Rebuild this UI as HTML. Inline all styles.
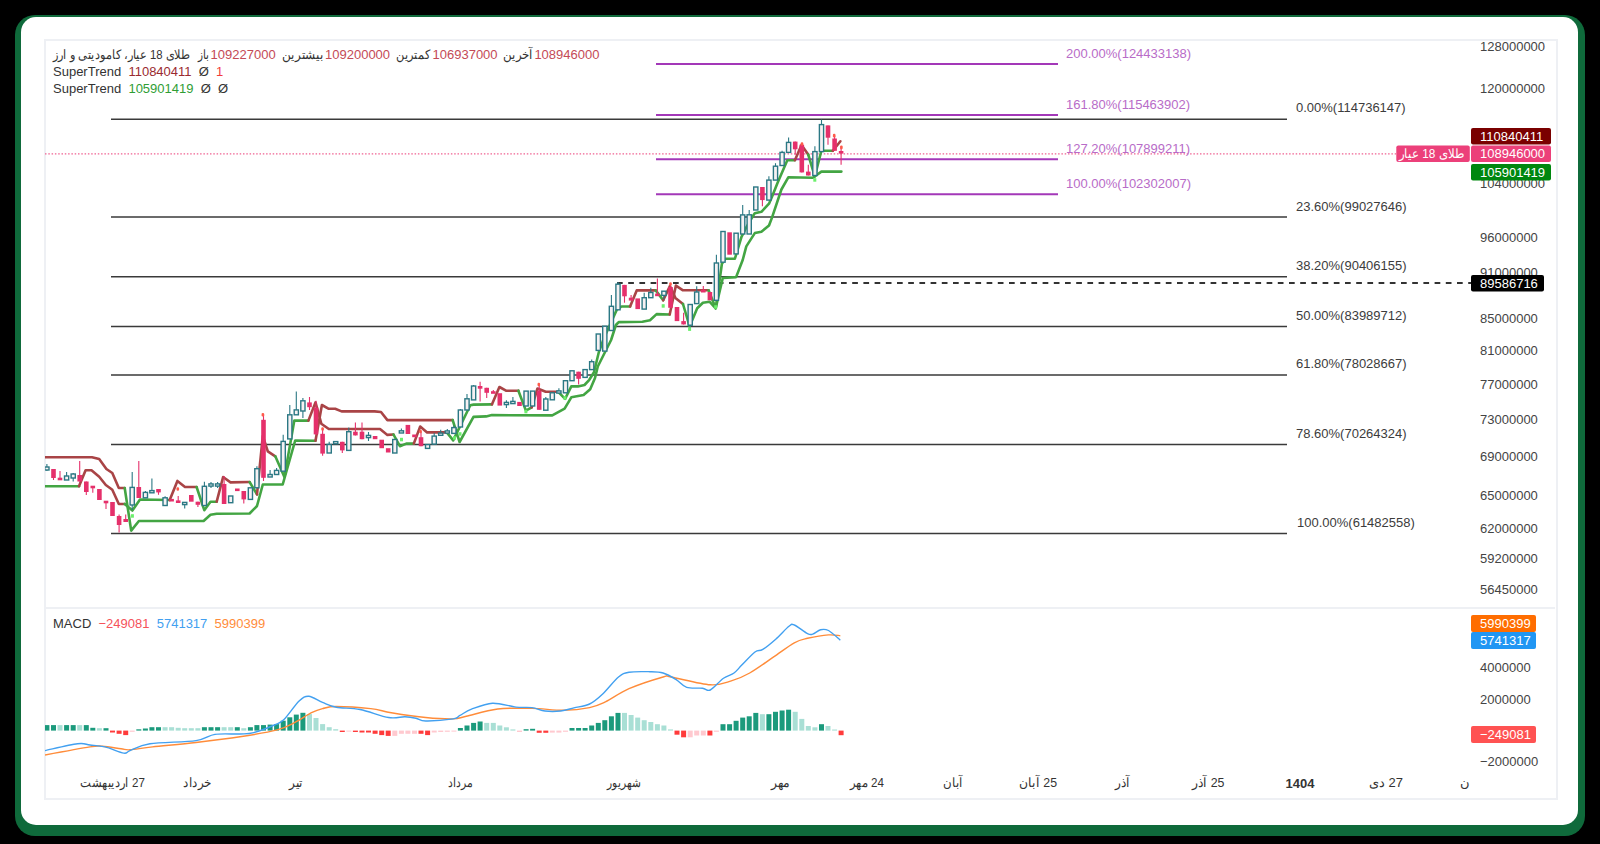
<!DOCTYPE html>
<html><head><meta charset="utf-8">
<style>
html,body{margin:0;padding:0;background:#000;width:1600px;height:844px;overflow:hidden;}
body{position:relative;font-family:"Liberation Sans",sans-serif;}
.frame{position:absolute;left:15px;top:15px;width:1570px;height:821px;background:#0f6a3b;border-radius:20px;}
.card{position:absolute;left:21px;top:17px;width:1557px;height:808px;background:#fff;border-radius:15px;}
.chart{position:absolute;left:43.5px;top:38.5px;width:1510px;height:757px;border:2px solid #eef0f4;}
.sep{position:absolute;left:45px;top:606.5px;width:1510px;height:2px;background:#eef0f4;}
svg{position:absolute;left:0;top:0;}
text{font-family:"Liberation Sans",sans-serif;}
.fa{position:absolute;font-size:13px;line-height:16px;white-space:nowrap;transform-origin:0 0;}
.leg{position:absolute;left:53px;font-size:13px;line-height:17px;white-space:nowrap;color:#333;}
</style></head><body>
<div class="frame"></div>
<div class="card"></div>
<div class="chart"></div>
<div class="sep"></div>
<svg width="1600" height="844" viewBox="0 0 1600 844">
<defs><clipPath id="cp"><rect x="45" y="40" width="1510" height="757"/></clipPath></defs>
<g clip-path="url(#cp)">
<line x1="111" y1="119.3" x2="1287" y2="119.3" stroke="#3a3a3a" stroke-width="1.6"/>
<line x1="111" y1="217.0" x2="1287" y2="217.0" stroke="#3a3a3a" stroke-width="1.6"/>
<line x1="111" y1="276.8" x2="1287" y2="276.8" stroke="#3a3a3a" stroke-width="1.6"/>
<line x1="111" y1="326.5" x2="1287" y2="326.5" stroke="#3a3a3a" stroke-width="1.6"/>
<line x1="111" y1="375.0" x2="1287" y2="375.0" stroke="#3a3a3a" stroke-width="1.6"/>
<line x1="111" y1="444.5" x2="1287" y2="444.5" stroke="#3a3a3a" stroke-width="1.6"/>
<line x1="111" y1="533.5" x2="1287" y2="533.5" stroke="#3a3a3a" stroke-width="1.6"/>
<line x1="656" y1="63.9" x2="1058" y2="63.9" stroke="#a338b8" stroke-width="2"/>
<line x1="656" y1="115.0" x2="1058" y2="115.0" stroke="#a338b8" stroke-width="2"/>
<line x1="656" y1="159.2" x2="1058" y2="159.2" stroke="#a338b8" stroke-width="2"/>
<line x1="656" y1="194.3" x2="1058" y2="194.3" stroke="#a338b8" stroke-width="2"/>
<line x1="45" y1="153.8" x2="1396" y2="153.8" stroke="#f06292" stroke-width="1.2" stroke-dasharray="1.5,1.8"/>
<line x1="617" y1="283" x2="1471" y2="283" stroke="#333" stroke-width="2" stroke-dasharray="5.7,5.5"/>
<polyline points="45.0,457.2 92.0,457.2 99.2,459.0 106.4,469.0 112.3,473.0 118.8,488.0 124.7,488.0" fill="none" stroke="#a94446" stroke-width="2.6" stroke-linejoin="round" stroke-linecap="round"/>
<polyline points="124.7,488.0 131.2,530.6 138.9,521.0 203.6,521.0 210.5,514.8 216.7,513.7 249.6,513.5 257.0,506.0 262.8,484.5 282.7,484.5 295.2,440.5 315.5,440.8" fill="none" stroke="#43a543" stroke-width="2.6" stroke-linejoin="round" stroke-linecap="round"/>
<polyline points="315.5,440.8 321.9,405.0 328.8,408.8 335.2,408.8 341.6,411.4 374.6,411.4 381.0,412.0 387.4,420.1 452.7,420.1" fill="none" stroke="#a94446" stroke-width="2.6" stroke-linejoin="round" stroke-linecap="round"/>
<polyline points="452.7,420.1 459.6,442.0 473.5,416.9 486.1,416.4 491.9,415.1 552.3,415.4 564.6,408.7 571.3,397.3 583.6,395.0 590.2,389.3 595.0,377.9 597.8,366.5 611.1,340.0 615.9,325.0 618.7,322.1 642.4,321.7 650.0,320.2 656.6,314.1 669.7,314.5" fill="none" stroke="#43a543" stroke-width="2.6" stroke-linejoin="round" stroke-linecap="round"/>
<polyline points="669.7,314.5 675.9,285.6 683.0,290.3 708.6,290.3" fill="none" stroke="#a94446" stroke-width="2.6" stroke-linejoin="round" stroke-linecap="round"/>
<polyline points="708.6,290.3 715.7,308.3 722.8,278.0 736.1,277.1 742.7,260.0 746.3,246.4 754.8,233.1 761.4,231.7 769.0,225.5 771.9,217.9 781.4,189.5 788.3,177.3 812.9,177.8 821.4,171.6 841.4,171.6" fill="none" stroke="#43a543" stroke-width="2.6" stroke-linejoin="round" stroke-linecap="round"/>

<polyline points="45.0,486.2 79.0,486.2" fill="none" stroke="#43a543" stroke-width="2.6" stroke-linejoin="round" stroke-linecap="round"/>
<polyline points="79.0,486.2 85.6,470.2 91.5,470.2 99.2,476.7 105.8,485.0 112.3,489.8 118.8,504.0 124.7,504.0" fill="none" stroke="#a94446" stroke-width="2.6" stroke-linejoin="round" stroke-linecap="round"/>
<polyline points="124.7,504.0 132.4,510.5 140.0,499.5 169.7,500.0" fill="none" stroke="#43a543" stroke-width="2.6" stroke-linejoin="round" stroke-linecap="round"/>
<polyline points="169.7,500.0 177.4,480.9 185.0,487.0 196.6,487.0" fill="none" stroke="#a94446" stroke-width="2.6" stroke-linejoin="round" stroke-linecap="round"/>
<polyline points="196.6,487.0 204.3,510.2 210.5,501.7 216.7,501.7" fill="none" stroke="#43a543" stroke-width="2.6" stroke-linejoin="round" stroke-linecap="round"/>
<polyline points="216.7,501.7 223.1,477.0 230.5,482.4 249.6,482.0" fill="none" stroke="#a94446" stroke-width="2.6" stroke-linejoin="round" stroke-linecap="round"/>
<polyline points="249.6,482.0 257.0,494.4" fill="none" stroke="#43a543" stroke-width="2.6" stroke-linejoin="round" stroke-linecap="round"/>
<polyline points="257.0,494.4 262.8,436.0 267.8,451.3 275.3,456.3" fill="none" stroke="#a94446" stroke-width="2.6" stroke-linejoin="round" stroke-linecap="round"/>
<polyline points="275.3,456.3 284.4,477.0 294.3,420.6 308.4,420.6" fill="none" stroke="#43a543" stroke-width="2.6" stroke-linejoin="round" stroke-linecap="round"/>
<polyline points="308.4,420.6 315.5,402.4 321.3,423.7 328.8,429.0 380.0,429.0 387.4,434.9 393.5,434.5" fill="none" stroke="#a94446" stroke-width="2.6" stroke-linejoin="round" stroke-linecap="round"/>
<polyline points="393.5,434.5 399.9,446.2 406.3,443.6 413.8,443.6" fill="none" stroke="#43a543" stroke-width="2.6" stroke-linejoin="round" stroke-linecap="round"/>
<polyline points="413.8,443.6 420.2,426.5 427.1,432.4 446.8,432.4" fill="none" stroke="#a94446" stroke-width="2.6" stroke-linejoin="round" stroke-linecap="round"/>
<polyline points="446.8,432.4 453.2,440.4 470.3,405.2 473.5,404.6 491.9,404.4" fill="none" stroke="#43a543" stroke-width="2.6" stroke-linejoin="round" stroke-linecap="round"/>
<polyline points="491.9,404.4 499.4,387.0 506.0,390.7 518.4,390.7" fill="none" stroke="#a94446" stroke-width="2.6" stroke-linejoin="round" stroke-linecap="round"/>
<polyline points="518.4,390.7 525.9,410.6 531.7,407.3" fill="none" stroke="#43a543" stroke-width="2.6" stroke-linejoin="round" stroke-linecap="round"/>
<polyline points="531.7,407.3 537.5,388.5 545.7,391.7 558.0,391.7" fill="none" stroke="#a94446" stroke-width="2.6" stroke-linejoin="round" stroke-linecap="round"/>
<polyline points="558.0,391.7 565.1,398.8 571.3,386.4 577.9,386.4 584.5,385.0 589.3,379.8 594.0,372.2 598.8,352.3 604.0,338.0 616.8,309.8 621.5,306.5 630.1,306.5" fill="none" stroke="#43a543" stroke-width="2.6" stroke-linejoin="round" stroke-linecap="round"/>
<polyline points="630.1,306.5 636.7,290.4 655.7,290.4" fill="none" stroke="#a94446" stroke-width="2.6" stroke-linejoin="round" stroke-linecap="round"/>
<polyline points="655.7,290.4 663.2,300.3" fill="none" stroke="#43a543" stroke-width="2.6" stroke-linejoin="round" stroke-linecap="round"/>
<polyline points="663.2,300.3 669.9,286.1 675.4,297.9 683.0,304.0" fill="none" stroke="#a94446" stroke-width="2.6" stroke-linejoin="round" stroke-linecap="round"/>
<polyline points="683.0,304.0 689.6,326.4 697.2,308.3 702.9,302.7 709.5,301.7 715.7,308.3 721.9,263.8 725.4,258.7 734.9,258.7 741.5,236.9 746.3,227.4 752.9,216.0 754.8,213.2 761.4,211.8 769.0,203.7 771.9,197.1 777.6,182.8 787.3,160.2 794.9,160.2" fill="none" stroke="#43a543" stroke-width="2.6" stroke-linejoin="round" stroke-linecap="round"/>
<polyline points="794.9,160.2 801.5,145.1 808.2,154.5" fill="none" stroke="#a94446" stroke-width="2.6" stroke-linejoin="round" stroke-linecap="round"/>
<polyline points="808.2,154.5 814.8,176.4 821.4,150.8 832.8,150.8" fill="none" stroke="#43a543" stroke-width="2.6" stroke-linejoin="round" stroke-linecap="round"/>
<polyline points="832.8,150.8 840.4,141.3" fill="none" stroke="#a94446" stroke-width="2.6" stroke-linejoin="round" stroke-linecap="round"/>

<line x1="46.9" y1="464.0" x2="46.9" y2="467.0" stroke="#2b7884" stroke-width="1.1"/>
<line x1="46.9" y1="470.0" x2="46.9" y2="471.0" stroke="#2b7884" stroke-width="1.1"/>
<rect x="44.8" y="467.0" width="4.2" height="3.0" fill="#f7f1f3" stroke="#2b7884" stroke-width="1.4"/>
<line x1="53.5" y1="469.0" x2="53.5" y2="480.0" stroke="#e5306b" stroke-width="1.1"/>
<rect x="51.2" y="469.0" width="4.6" height="9.0" fill="#e5306b"/>
<line x1="60.0" y1="471.0" x2="60.0" y2="480.0" stroke="#e5306b" stroke-width="1.1"/>
<rect x="57.7" y="477.7" width="4.6" height="2.6" fill="#e5306b"/>
<line x1="66.6" y1="472.0" x2="66.6" y2="476.0" stroke="#2b7884" stroke-width="1.1"/>
<rect x="64.5" y="476.0" width="4.2" height="4.0" fill="#f7f1f3" stroke="#2b7884" stroke-width="1.4"/>
<line x1="73.2" y1="473.0" x2="73.2" y2="474.0" stroke="#2b7884" stroke-width="1.1"/>
<line x1="73.2" y1="478.0" x2="73.2" y2="481.5" stroke="#2b7884" stroke-width="1.1"/>
<rect x="71.1" y="474.0" width="4.2" height="4.0" fill="#f7f1f3" stroke="#2b7884" stroke-width="1.4"/>
<line x1="79.7" y1="461.0" x2="79.7" y2="481.5" stroke="#e5306b" stroke-width="1.1"/>
<rect x="77.4" y="475.0" width="4.6" height="6.5" fill="#e5306b"/>
<line x1="86.3" y1="481.5" x2="86.3" y2="495.0" stroke="#e5306b" stroke-width="1.1"/>
<rect x="84.0" y="481.5" width="4.6" height="10.5" fill="#e5306b"/>
<line x1="92.8" y1="486.0" x2="92.8" y2="492.7" stroke="#e5306b" stroke-width="1.1"/>
<rect x="90.5" y="485.7" width="4.6" height="2.6" fill="#e5306b"/>
<rect x="97.1" y="489.0" width="4.6" height="11.0" fill="#e5306b"/>
<line x1="106.0" y1="501.0" x2="106.0" y2="509.0" stroke="#e5306b" stroke-width="1.1"/>
<rect x="103.7" y="500.7" width="4.6" height="2.6" fill="#e5306b"/>
<rect x="110.2" y="502.0" width="4.6" height="14.0" fill="#e5306b"/>
<line x1="119.1" y1="514.6" x2="119.1" y2="532.4" stroke="#e5306b" stroke-width="1.1"/>
<rect x="116.8" y="516.0" width="4.6" height="9.0" fill="#e5306b"/>
<line x1="125.7" y1="514.6" x2="125.7" y2="522.0" stroke="#e5306b" stroke-width="1.1"/>
<rect x="123.4" y="519.0" width="4.6" height="3.0" fill="#e5306b"/>
<line x1="132.2" y1="472.0" x2="132.2" y2="487.4" stroke="#2b7884" stroke-width="1.1"/>
<line x1="132.2" y1="505.0" x2="132.2" y2="510.0" stroke="#2b7884" stroke-width="1.1"/>
<rect x="130.1" y="487.4" width="4.2" height="17.6" fill="#f7f1f3" stroke="#2b7884" stroke-width="1.4"/>
<line x1="138.8" y1="461.0" x2="138.8" y2="498.0" stroke="#e5306b" stroke-width="1.1"/>
<rect x="136.5" y="487.0" width="4.6" height="11.0" fill="#e5306b"/>
<line x1="145.4" y1="491.0" x2="145.4" y2="492.4" stroke="#2b7884" stroke-width="1.1"/>
<rect x="143.3" y="492.4" width="4.2" height="5.4" fill="#f7f1f3" stroke="#2b7884" stroke-width="1.4"/>
<line x1="151.9" y1="478.6" x2="151.9" y2="491.0" stroke="#2b7884" stroke-width="1.1"/>
<rect x="149.8" y="490.6" width="4.2" height="2.2" fill="#f7f1f3" stroke="#2b7884" stroke-width="1.4"/>
<line x1="158.5" y1="489.0" x2="158.5" y2="494.8" stroke="#e5306b" stroke-width="1.1"/>
<rect x="156.2" y="489.0" width="4.6" height="3.4" fill="#e5306b"/>
<line x1="165.1" y1="496.3" x2="165.1" y2="497.8" stroke="#2b7884" stroke-width="1.1"/>
<rect x="163.0" y="497.8" width="4.2" height="7.7" fill="#f7f1f3" stroke="#2b7884" stroke-width="1.4"/>
<rect x="169.3" y="498.9" width="4.6" height="2.6" fill="#e5306b"/>
<line x1="178.2" y1="496.0" x2="178.2" y2="502.5" stroke="#e5306b" stroke-width="1.1"/>
<rect x="175.9" y="500.4" width="4.6" height="2.6" fill="#e5306b"/>
<line x1="184.7" y1="504.0" x2="184.7" y2="508.6" stroke="#2b7884" stroke-width="1.1"/>
<rect x="182.6" y="502.4" width="4.2" height="2.2" fill="#f7f1f3" stroke="#2b7884" stroke-width="1.4"/>
<rect x="189.0" y="495.0" width="4.6" height="6.7" fill="#e5306b"/>
<line x1="197.9" y1="501.7" x2="197.9" y2="507.0" stroke="#e5306b" stroke-width="1.1"/>
<rect x="195.6" y="501.7" width="4.6" height="3.1" fill="#e5306b"/>
<line x1="204.4" y1="481.7" x2="204.4" y2="486.3" stroke="#2b7884" stroke-width="1.1"/>
<rect x="202.3" y="486.3" width="4.2" height="19.2" fill="#f7f1f3" stroke="#2b7884" stroke-width="1.4"/>
<line x1="211.0" y1="482.0" x2="211.0" y2="484.5" stroke="#2b7884" stroke-width="1.1"/>
<line x1="211.0" y1="485.5" x2="211.0" y2="488.0" stroke="#2b7884" stroke-width="1.1"/>
<rect x="208.9" y="483.9" width="4.2" height="2.2" fill="#f7f1f3" stroke="#2b7884" stroke-width="1.4"/>
<line x1="217.6" y1="482.0" x2="217.6" y2="484.5" stroke="#2b7884" stroke-width="1.1"/>
<line x1="217.6" y1="485.5" x2="217.6" y2="488.0" stroke="#2b7884" stroke-width="1.1"/>
<rect x="215.5" y="483.9" width="4.2" height="2.2" fill="#f7f1f3" stroke="#2b7884" stroke-width="1.4"/>
<line x1="224.1" y1="476.0" x2="224.1" y2="504.0" stroke="#e5306b" stroke-width="1.1"/>
<rect x="221.8" y="484.0" width="4.6" height="20.0" fill="#e5306b"/>
<rect x="228.6" y="496.0" width="4.2" height="6.7" fill="#f7f1f3" stroke="#2b7884" stroke-width="1.4"/>
<rect x="235.0" y="488.5" width="4.6" height="2.6" fill="#e5306b"/>
<line x1="243.8" y1="491.0" x2="243.8" y2="503.5" stroke="#e5306b" stroke-width="1.1"/>
<rect x="241.5" y="491.0" width="4.6" height="8.4" fill="#e5306b"/>
<rect x="248.3" y="487.8" width="4.2" height="11.6" fill="#f7f1f3" stroke="#2b7884" stroke-width="1.4"/>
<line x1="256.9" y1="466.2" x2="256.9" y2="468.7" stroke="#2b7884" stroke-width="1.1"/>
<rect x="254.8" y="468.7" width="4.2" height="19.1" fill="#f7f1f3" stroke="#2b7884" stroke-width="1.4"/>
<line x1="263.5" y1="414.0" x2="263.5" y2="481.0" stroke="#e5306b" stroke-width="1.1"/>
<rect x="261.2" y="419.8" width="4.6" height="58.0" fill="#e5306b"/>
<line x1="270.1" y1="470.0" x2="270.1" y2="474.5" stroke="#2b7884" stroke-width="1.1"/>
<rect x="268.0" y="474.5" width="4.2" height="2.5" fill="#f7f1f3" stroke="#2b7884" stroke-width="1.4"/>
<line x1="276.6" y1="468.0" x2="276.6" y2="470.4" stroke="#2b7884" stroke-width="1.1"/>
<rect x="274.5" y="470.4" width="4.2" height="4.1" fill="#f7f1f3" stroke="#2b7884" stroke-width="1.4"/>
<line x1="283.2" y1="434.7" x2="283.2" y2="441.4" stroke="#2b7884" stroke-width="1.1"/>
<rect x="281.1" y="441.4" width="4.2" height="29.8" fill="#f7f1f3" stroke="#2b7884" stroke-width="1.4"/>
<line x1="289.8" y1="404.9" x2="289.8" y2="414.8" stroke="#2b7884" stroke-width="1.1"/>
<rect x="287.7" y="414.8" width="4.2" height="24.1" fill="#f7f1f3" stroke="#2b7884" stroke-width="1.4"/>
<line x1="296.3" y1="391.6" x2="296.3" y2="409.9" stroke="#2b7884" stroke-width="1.1"/>
<rect x="294.2" y="409.9" width="4.2" height="4.9" fill="#f7f1f3" stroke="#2b7884" stroke-width="1.4"/>
<line x1="302.9" y1="398.0" x2="302.9" y2="400.8" stroke="#2b7884" stroke-width="1.1"/>
<line x1="302.9" y1="411.0" x2="302.9" y2="418.0" stroke="#2b7884" stroke-width="1.1"/>
<rect x="300.8" y="400.8" width="4.2" height="10.2" fill="#f7f1f3" stroke="#2b7884" stroke-width="1.4"/>
<line x1="309.5" y1="397.0" x2="309.5" y2="410.0" stroke="#e5306b" stroke-width="1.1"/>
<rect x="307.2" y="402.4" width="4.6" height="4.8" fill="#e5306b"/>
<line x1="316.0" y1="400.8" x2="316.0" y2="434.4" stroke="#e5306b" stroke-width="1.1"/>
<rect x="313.7" y="407.7" width="4.6" height="26.7" fill="#e5306b"/>
<line x1="322.6" y1="429.0" x2="322.6" y2="455.7" stroke="#e5306b" stroke-width="1.1"/>
<rect x="320.3" y="433.8" width="4.6" height="19.8" fill="#e5306b"/>
<line x1="329.2" y1="441.8" x2="329.2" y2="444.5" stroke="#2b7884" stroke-width="1.1"/>
<rect x="327.1" y="444.5" width="4.2" height="8.5" fill="#f7f1f3" stroke="#2b7884" stroke-width="1.4"/>
<line x1="335.7" y1="441.0" x2="335.7" y2="442.0" stroke="#2b7884" stroke-width="1.1"/>
<line x1="335.7" y1="443.5" x2="335.7" y2="444.0" stroke="#2b7884" stroke-width="1.1"/>
<rect x="333.6" y="441.6" width="4.2" height="2.2" fill="#f7f1f3" stroke="#2b7884" stroke-width="1.4"/>
<line x1="342.3" y1="441.8" x2="342.3" y2="453.0" stroke="#e5306b" stroke-width="1.1"/>
<rect x="340.0" y="441.8" width="4.6" height="8.6" fill="#e5306b"/>
<line x1="348.8" y1="427.4" x2="348.8" y2="431.7" stroke="#2b7884" stroke-width="1.1"/>
<rect x="346.7" y="431.7" width="4.2" height="18.7" fill="#f7f1f3" stroke="#2b7884" stroke-width="1.4"/>
<line x1="355.4" y1="422.6" x2="355.4" y2="435.4" stroke="#e5306b" stroke-width="1.1"/>
<rect x="353.1" y="431.7" width="4.6" height="3.7" fill="#e5306b"/>
<line x1="362.0" y1="422.6" x2="362.0" y2="439.2" stroke="#e5306b" stroke-width="1.1"/>
<rect x="359.7" y="431.7" width="4.6" height="7.5" fill="#e5306b"/>
<line x1="368.5" y1="432.0" x2="368.5" y2="436.0" stroke="#2b7884" stroke-width="1.1"/>
<line x1="368.5" y1="437.0" x2="368.5" y2="441.0" stroke="#2b7884" stroke-width="1.1"/>
<rect x="366.4" y="435.4" width="4.2" height="2.2" fill="#f7f1f3" stroke="#2b7884" stroke-width="1.4"/>
<rect x="372.8" y="436.0" width="4.6" height="3.2" fill="#e5306b"/>
<rect x="379.4" y="439.7" width="4.6" height="8.5" fill="#e5306b"/>
<rect x="385.9" y="448.2" width="4.6" height="4.3" fill="#e5306b"/>
<rect x="392.7" y="439.5" width="4.2" height="13.5" fill="#f7f1f3" stroke="#2b7884" stroke-width="1.4"/>
<line x1="401.4" y1="428.6" x2="401.4" y2="430.8" stroke="#2b7884" stroke-width="1.1"/>
<rect x="399.3" y="430.8" width="4.2" height="2.2" fill="#f7f1f3" stroke="#2b7884" stroke-width="1.4"/>
<rect x="405.6" y="424.9" width="4.6" height="9.1" fill="#e5306b"/>
<rect x="412.2" y="434.5" width="4.6" height="2.7" fill="#e5306b"/>
<line x1="421.0" y1="431.3" x2="421.0" y2="446.2" stroke="#e5306b" stroke-width="1.1"/>
<rect x="418.7" y="437.2" width="4.6" height="9.0" fill="#e5306b"/>
<rect x="425.5" y="444.6" width="4.2" height="3.8" fill="#f7f1f3" stroke="#2b7884" stroke-width="1.4"/>
<line x1="434.2" y1="432.9" x2="434.2" y2="436.1" stroke="#2b7884" stroke-width="1.1"/>
<rect x="432.1" y="436.1" width="4.2" height="8.0" fill="#f7f1f3" stroke="#2b7884" stroke-width="1.4"/>
<line x1="440.7" y1="429.7" x2="440.7" y2="433.4" stroke="#2b7884" stroke-width="1.1"/>
<rect x="438.6" y="433.1" width="4.2" height="2.2" fill="#f7f1f3" stroke="#2b7884" stroke-width="1.4"/>
<line x1="447.3" y1="429.0" x2="447.3" y2="431.5" stroke="#2b7884" stroke-width="1.1"/>
<line x1="447.3" y1="432.5" x2="447.3" y2="433.0" stroke="#2b7884" stroke-width="1.1"/>
<rect x="445.2" y="430.9" width="4.2" height="2.2" fill="#f7f1f3" stroke="#2b7884" stroke-width="1.4"/>
<line x1="453.9" y1="425.4" x2="453.9" y2="427.6" stroke="#2b7884" stroke-width="1.1"/>
<rect x="451.8" y="427.6" width="4.2" height="5.8" fill="#f7f1f3" stroke="#2b7884" stroke-width="1.4"/>
<line x1="460.4" y1="408.9" x2="460.4" y2="410.0" stroke="#2b7884" stroke-width="1.1"/>
<rect x="458.3" y="410.0" width="4.2" height="17.0" fill="#f7f1f3" stroke="#2b7884" stroke-width="1.4"/>
<line x1="467.0" y1="394.0" x2="467.0" y2="398.8" stroke="#2b7884" stroke-width="1.1"/>
<rect x="464.9" y="398.8" width="4.2" height="11.2" fill="#f7f1f3" stroke="#2b7884" stroke-width="1.4"/>
<line x1="473.6" y1="384.9" x2="473.6" y2="386.0" stroke="#2b7884" stroke-width="1.1"/>
<rect x="471.5" y="386.0" width="4.2" height="13.9" fill="#f7f1f3" stroke="#2b7884" stroke-width="1.4"/>
<line x1="480.1" y1="381.7" x2="480.1" y2="401.4" stroke="#e5306b" stroke-width="1.1"/>
<rect x="477.8" y="386.0" width="4.6" height="2.7" fill="#e5306b"/>
<line x1="486.7" y1="387.8" x2="486.7" y2="398.1" stroke="#e5306b" stroke-width="1.1"/>
<rect x="484.4" y="387.8" width="4.6" height="5.0" fill="#e5306b"/>
<line x1="493.3" y1="389.9" x2="493.3" y2="393.0" stroke="#e5306b" stroke-width="1.1"/>
<rect x="491.0" y="391.2" width="4.6" height="2.6" fill="#e5306b"/>
<rect x="497.5" y="393.2" width="4.6" height="12.4" fill="#e5306b"/>
<line x1="506.4" y1="400.2" x2="506.4" y2="403.0" stroke="#2b7884" stroke-width="1.1"/>
<line x1="506.4" y1="404.0" x2="506.4" y2="408.1" stroke="#2b7884" stroke-width="1.1"/>
<rect x="504.3" y="402.4" width="4.2" height="2.2" fill="#f7f1f3" stroke="#2b7884" stroke-width="1.4"/>
<line x1="512.9" y1="396.9" x2="512.9" y2="402.0" stroke="#2b7884" stroke-width="1.1"/>
<rect x="510.8" y="401.4" width="4.2" height="2.2" fill="#f7f1f3" stroke="#2b7884" stroke-width="1.4"/>
<rect x="517.2" y="401.9" width="4.6" height="4.1" fill="#e5306b"/>
<rect x="524.0" y="391.1" width="4.2" height="14.9" fill="#f7f1f3" stroke="#2b7884" stroke-width="1.4"/>
<rect x="530.5" y="391.1" width="4.2" height="14.9" fill="#f7f1f3" stroke="#2b7884" stroke-width="1.4"/>
<line x1="539.2" y1="384.5" x2="539.2" y2="409.8" stroke="#e5306b" stroke-width="1.1"/>
<rect x="536.9" y="390.7" width="4.6" height="19.1" fill="#e5306b"/>
<line x1="545.8" y1="397.0" x2="545.8" y2="399.0" stroke="#2b7884" stroke-width="1.1"/>
<rect x="543.7" y="399.0" width="4.2" height="11.2" fill="#f7f1f3" stroke="#2b7884" stroke-width="1.4"/>
<rect x="550.2" y="392.8" width="4.2" height="7.0" fill="#f7f1f3" stroke="#2b7884" stroke-width="1.4"/>
<line x1="558.9" y1="388.2" x2="558.9" y2="391.1" stroke="#2b7884" stroke-width="1.1"/>
<rect x="556.8" y="390.9" width="4.2" height="2.2" fill="#f7f1f3" stroke="#2b7884" stroke-width="1.4"/>
<rect x="563.4" y="380.7" width="4.2" height="12.1" fill="#f7f1f3" stroke="#2b7884" stroke-width="1.4"/>
<rect x="569.9" y="370.8" width="4.2" height="9.9" fill="#f7f1f3" stroke="#2b7884" stroke-width="1.4"/>
<line x1="578.6" y1="371.7" x2="578.6" y2="384.5" stroke="#e5306b" stroke-width="1.1"/>
<rect x="576.3" y="371.7" width="4.6" height="7.1" fill="#e5306b"/>
<rect x="583.0" y="369.6" width="4.2" height="7.8" fill="#f7f1f3" stroke="#2b7884" stroke-width="1.4"/>
<line x1="591.7" y1="359.6" x2="591.7" y2="361.7" stroke="#2b7884" stroke-width="1.1"/>
<rect x="589.6" y="361.7" width="4.2" height="7.9" fill="#f7f1f3" stroke="#2b7884" stroke-width="1.4"/>
<rect x="596.2" y="334.0" width="4.2" height="16.4" fill="#f7f1f3" stroke="#2b7884" stroke-width="1.4"/>
<rect x="602.7" y="326.2" width="4.2" height="24.9" fill="#f7f1f3" stroke="#2b7884" stroke-width="1.4"/>
<line x1="611.4" y1="294.9" x2="611.4" y2="306.3" stroke="#2b7884" stroke-width="1.1"/>
<rect x="609.3" y="306.3" width="4.2" height="24.2" fill="#f7f1f3" stroke="#2b7884" stroke-width="1.4"/>
<line x1="618.0" y1="282.0" x2="618.0" y2="284.2" stroke="#2b7884" stroke-width="1.1"/>
<rect x="615.9" y="284.2" width="4.2" height="25.6" fill="#f7f1f3" stroke="#2b7884" stroke-width="1.4"/>
<line x1="624.5" y1="284.9" x2="624.5" y2="302.7" stroke="#e5306b" stroke-width="1.1"/>
<rect x="622.2" y="284.9" width="4.6" height="11.4" fill="#e5306b"/>
<line x1="631.1" y1="294.9" x2="631.1" y2="300.6" stroke="#e5306b" stroke-width="1.1"/>
<rect x="628.8" y="297.7" width="4.6" height="2.9" fill="#e5306b"/>
<rect x="635.4" y="298.4" width="4.6" height="10.7" fill="#e5306b"/>
<line x1="644.2" y1="292.8" x2="644.2" y2="297.7" stroke="#2b7884" stroke-width="1.1"/>
<rect x="642.1" y="297.7" width="4.2" height="11.4" fill="#f7f1f3" stroke="#2b7884" stroke-width="1.4"/>
<line x1="650.8" y1="287.8" x2="650.8" y2="292.5" stroke="#2b7884" stroke-width="1.1"/>
<rect x="648.7" y="292.5" width="4.2" height="5.2" fill="#f7f1f3" stroke="#2b7884" stroke-width="1.4"/>
<line x1="657.4" y1="278.5" x2="657.4" y2="295.6" stroke="#e5306b" stroke-width="1.1"/>
<rect x="655.1" y="293.6" width="4.6" height="2.6" fill="#e5306b"/>
<line x1="663.9" y1="295.4" x2="663.9" y2="299.5" stroke="#2b7884" stroke-width="1.1"/>
<rect x="661.8" y="291.2" width="4.2" height="4.2" fill="#f7f1f3" stroke="#2b7884" stroke-width="1.4"/>
<line x1="670.5" y1="284.6" x2="670.5" y2="307.8" stroke="#e5306b" stroke-width="1.1"/>
<rect x="668.2" y="287.0" width="4.6" height="20.8" fill="#e5306b"/>
<rect x="674.7" y="307.0" width="4.6" height="14.1" fill="#e5306b"/>
<line x1="683.6" y1="312.8" x2="683.6" y2="324.4" stroke="#e5306b" stroke-width="1.1"/>
<rect x="681.3" y="321.1" width="4.6" height="3.3" fill="#e5306b"/>
<line x1="690.2" y1="325.2" x2="690.2" y2="327.7" stroke="#2b7884" stroke-width="1.1"/>
<rect x="688.1" y="304.5" width="4.2" height="20.7" fill="#f7f1f3" stroke="#2b7884" stroke-width="1.4"/>
<line x1="696.7" y1="286.2" x2="696.7" y2="292.0" stroke="#2b7884" stroke-width="1.1"/>
<rect x="694.6" y="292.0" width="4.2" height="11.6" fill="#f7f1f3" stroke="#2b7884" stroke-width="1.4"/>
<line x1="703.3" y1="286.0" x2="703.3" y2="292.0" stroke="#e5306b" stroke-width="1.1"/>
<rect x="701.0" y="289.9" width="4.6" height="2.6" fill="#e5306b"/>
<rect x="707.6" y="292.0" width="4.6" height="8.3" fill="#e5306b"/>
<line x1="716.4" y1="254.7" x2="716.4" y2="263.0" stroke="#2b7884" stroke-width="1.1"/>
<rect x="714.3" y="263.0" width="4.2" height="37.3" fill="#f7f1f3" stroke="#2b7884" stroke-width="1.4"/>
<rect x="720.9" y="231.5" width="4.2" height="30.7" fill="#f7f1f3" stroke="#2b7884" stroke-width="1.4"/>
<rect x="727.3" y="232.3" width="4.6" height="22.4" fill="#e5306b"/>
<rect x="734.0" y="233.2" width="4.2" height="20.7" fill="#f7f1f3" stroke="#2b7884" stroke-width="1.4"/>
<line x1="742.7" y1="205.0" x2="742.7" y2="214.9" stroke="#2b7884" stroke-width="1.1"/>
<rect x="740.6" y="214.9" width="4.2" height="19.1" fill="#f7f1f3" stroke="#2b7884" stroke-width="1.4"/>
<line x1="749.2" y1="210.0" x2="749.2" y2="214.8" stroke="#2b7884" stroke-width="1.1"/>
<rect x="747.1" y="214.8" width="4.2" height="19.2" fill="#f7f1f3" stroke="#2b7884" stroke-width="1.4"/>
<rect x="753.7" y="187.0" width="4.2" height="23.0" fill="#f7f1f3" stroke="#2b7884" stroke-width="1.4"/>
<line x1="762.4" y1="187.0" x2="762.4" y2="206.3" stroke="#e5306b" stroke-width="1.1"/>
<rect x="760.1" y="187.0" width="4.6" height="13.1" fill="#e5306b"/>
<line x1="768.9" y1="176.3" x2="768.9" y2="180.1" stroke="#2b7884" stroke-width="1.1"/>
<rect x="766.8" y="180.1" width="4.2" height="20.0" fill="#f7f1f3" stroke="#2b7884" stroke-width="1.4"/>
<line x1="775.5" y1="163.2" x2="775.5" y2="166.2" stroke="#2b7884" stroke-width="1.1"/>
<rect x="773.4" y="166.2" width="4.2" height="13.9" fill="#f7f1f3" stroke="#2b7884" stroke-width="1.4"/>
<line x1="782.1" y1="150.8" x2="782.1" y2="152.4" stroke="#2b7884" stroke-width="1.1"/>
<rect x="780.0" y="152.4" width="4.2" height="13.1" fill="#f7f1f3" stroke="#2b7884" stroke-width="1.4"/>
<line x1="788.6" y1="137.4" x2="788.6" y2="142.4" stroke="#2b7884" stroke-width="1.1"/>
<rect x="786.5" y="142.4" width="4.2" height="10.0" fill="#f7f1f3" stroke="#2b7884" stroke-width="1.4"/>
<line x1="795.2" y1="141.6" x2="795.2" y2="154.7" stroke="#e5306b" stroke-width="1.1"/>
<rect x="792.9" y="141.6" width="4.6" height="7.7" fill="#e5306b"/>
<line x1="801.8" y1="143.1" x2="801.8" y2="172.4" stroke="#e5306b" stroke-width="1.1"/>
<rect x="799.5" y="144.7" width="4.6" height="27.7" fill="#e5306b"/>
<line x1="808.3" y1="164.7" x2="808.3" y2="175.5" stroke="#e5306b" stroke-width="1.1"/>
<rect x="806.0" y="171.6" width="4.6" height="3.9" fill="#e5306b"/>
<line x1="814.9" y1="146.2" x2="814.9" y2="151.6" stroke="#2b7884" stroke-width="1.1"/>
<rect x="812.8" y="151.6" width="4.2" height="23.9" fill="#f7f1f3" stroke="#2b7884" stroke-width="1.4"/>
<line x1="821.5" y1="119.6" x2="821.5" y2="124.6" stroke="#2b7884" stroke-width="1.1"/>
<rect x="819.4" y="124.6" width="4.2" height="27.0" fill="#f7f1f3" stroke="#2b7884" stroke-width="1.4"/>
<line x1="828.0" y1="125.4" x2="828.0" y2="144.7" stroke="#e5306b" stroke-width="1.1"/>
<rect x="825.7" y="125.4" width="4.6" height="12.3" fill="#e5306b"/>
<line x1="834.6" y1="135.4" x2="834.6" y2="150.8" stroke="#e5306b" stroke-width="1.1"/>
<rect x="832.3" y="138.5" width="4.6" height="12.3" fill="#e5306b"/>
<line x1="841.1" y1="146.2" x2="841.1" y2="164.7" stroke="#e5306b" stroke-width="1.1"/>
<rect x="838.8" y="151.0" width="4.6" height="2.6" fill="#e5306b"/>
<rect x="130.9" y="514.2" width="3" height="3.5" fill="#6cf06c"/>
<rect x="400.0" y="437.8" width="3" height="3.5" fill="#6cf06c"/>
<rect x="453.0" y="436.2" width="3" height="3.5" fill="#6cf06c"/>
<rect x="458.5" y="432.2" width="3" height="3.5" fill="#6cf06c"/>
<rect x="524.4" y="409.8" width="3" height="3.5" fill="#6cf06c"/>
<rect x="563.4" y="396.2" width="3" height="3.5" fill="#6cf06c"/>
<rect x="661.7" y="304.2" width="3" height="3.5" fill="#6cf06c"/>
<rect x="688.1" y="327.4" width="3" height="3.5" fill="#6cf06c"/>
<rect x="714.2" y="305.2" width="3" height="3.5" fill="#6cf06c"/>
<rect x="813.3" y="178.2" width="3" height="3.5" fill="#6cf06c"/>
<rect x="261.6" y="412.9" width="2.6" height="3.6" rx="1.2" fill="#ff5a4a"/>
<rect x="176.5" y="487.2" width="2.6" height="3.6" rx="1.2" fill="#ff5a4a"/>
<rect x="321.3" y="427.2" width="2.6" height="3.6" rx="1.2" fill="#ff5a4a"/>
<rect x="419.2" y="429.7" width="2.6" height="3.6" rx="1.2" fill="#ff5a4a"/>
<rect x="537.5" y="382.7" width="2.6" height="3.6" rx="1.2" fill="#ff5a4a"/>
<rect x="669.2" y="282.2" width="2.6" height="3.6" rx="1.2" fill="#ff5a4a"/>
<rect x="800.7" y="142.2" width="2.6" height="3.6" rx="1.2" fill="#ff5a4a"/>
<rect x="832.9" y="133.8" width="2.6" height="3.6" rx="1.2" fill="#ff5a4a"/>
<rect x="840.1" y="145.6" width="2.6" height="3.6" rx="1.2" fill="#ff5a4a"/>
<rect x="44.4" y="725.1" width="5" height="5.5" fill="#1b9a7c"/>
<rect x="51.0" y="725.1" width="5" height="5.5" fill="#1b9a7c"/>
<rect x="57.5" y="725.1" width="5" height="5.5" fill="#a9dfd5"/>
<rect x="64.1" y="725.1" width="5" height="5.5" fill="#1b9a7c"/>
<rect x="70.7" y="725.1" width="5" height="5.5" fill="#1b9a7c"/>
<rect x="77.2" y="725.1" width="5" height="5.5" fill="#a9dfd5"/>
<rect x="83.8" y="725.1" width="5" height="5.5" fill="#1b9a7c"/>
<rect x="90.3" y="727.8" width="5" height="2.8" fill="#1b9a7c"/>
<rect x="96.9" y="728.2" width="5" height="2.4" fill="#a9dfd5"/>
<rect x="103.5" y="728.2" width="5" height="2.4" fill="#1b9a7c"/>
<rect x="110.0" y="730.6" width="5" height="1.9" fill="#ff3b3b"/>
<rect x="116.6" y="730.6" width="5" height="3.2" fill="#ff3b3b"/>
<rect x="123.2" y="730.6" width="5" height="4.5" fill="#ff3b3b"/>
<rect x="129.7" y="730.6" width="5" height="1.2" fill="#ffc9cf"/>
<rect x="136.3" y="729.3" width="5" height="1.3" fill="#1b9a7c"/>
<rect x="142.9" y="728.5" width="5" height="2.1" fill="#1b9a7c"/>
<rect x="149.4" y="727.2" width="5" height="3.4" fill="#1b9a7c"/>
<rect x="156.0" y="727.2" width="5" height="3.4" fill="#1b9a7c"/>
<rect x="162.6" y="727.2" width="5" height="3.4" fill="#a9dfd5"/>
<rect x="169.1" y="727.2" width="5" height="3.4" fill="#a9dfd5"/>
<rect x="175.7" y="727.8" width="5" height="2.8" fill="#a9dfd5"/>
<rect x="182.2" y="728.2" width="5" height="2.4" fill="#a9dfd5"/>
<rect x="188.8" y="728.2" width="5" height="2.4" fill="#a9dfd5"/>
<rect x="195.4" y="728.2" width="5" height="2.4" fill="#a9dfd5"/>
<rect x="201.9" y="727.2" width="5" height="3.4" fill="#1b9a7c"/>
<rect x="208.5" y="727.2" width="5" height="3.4" fill="#1b9a7c"/>
<rect x="215.1" y="727.2" width="5" height="3.4" fill="#1b9a7c"/>
<rect x="221.6" y="727.2" width="5" height="3.4" fill="#a9dfd5"/>
<rect x="228.2" y="727.2" width="5" height="3.4" fill="#a9dfd5"/>
<rect x="234.8" y="727.2" width="5" height="3.4" fill="#1b9a7c"/>
<rect x="241.3" y="728.2" width="5" height="2.4" fill="#a9dfd5"/>
<rect x="247.9" y="727.2" width="5" height="3.4" fill="#1b9a7c"/>
<rect x="254.4" y="725.1" width="5" height="5.5" fill="#1b9a7c"/>
<rect x="261.0" y="725.1" width="5" height="5.5" fill="#1b9a7c"/>
<rect x="267.6" y="724.6" width="5" height="6.0" fill="#1b9a7c"/>
<rect x="274.1" y="724.1" width="5" height="6.5" fill="#1b9a7c"/>
<rect x="280.7" y="720.7" width="5" height="9.9" fill="#1b9a7c"/>
<rect x="287.3" y="717.3" width="5" height="13.3" fill="#1b9a7c"/>
<rect x="293.8" y="714.6" width="5" height="16.0" fill="#1b9a7c"/>
<rect x="300.4" y="712.8" width="5" height="17.8" fill="#1b9a7c"/>
<rect x="307.0" y="714.1" width="5" height="16.5" fill="#a9dfd5"/>
<rect x="313.5" y="718.0" width="5" height="12.6" fill="#a9dfd5"/>
<rect x="320.1" y="724.1" width="5" height="6.5" fill="#a9dfd5"/>
<rect x="326.7" y="727.2" width="5" height="3.4" fill="#a9dfd5"/>
<rect x="333.2" y="729.2" width="5" height="1.4" fill="#a9dfd5"/>
<rect x="339.8" y="730.6" width="5" height="1.4" fill="#ff3b3b"/>
<rect x="346.3" y="730.6" width="5" height="1.0" fill="#ffc9cf"/>
<rect x="352.9" y="730.6" width="5" height="1.4" fill="#ff3b3b"/>
<rect x="359.5" y="730.6" width="5" height="1.9" fill="#ff3b3b"/>
<rect x="366.0" y="730.6" width="5" height="1.9" fill="#ff3b3b"/>
<rect x="372.6" y="730.6" width="5" height="3.2" fill="#ff3b3b"/>
<rect x="379.2" y="730.6" width="5" height="4.5" fill="#ff3b3b"/>
<rect x="385.7" y="730.6" width="5" height="5.3" fill="#ff3b3b"/>
<rect x="392.3" y="730.6" width="5" height="5.3" fill="#ffc9cf"/>
<rect x="398.9" y="730.6" width="5" height="3.2" fill="#ffc9cf"/>
<rect x="405.4" y="730.6" width="5" height="3.2" fill="#ffc9cf"/>
<rect x="412.0" y="730.6" width="5" height="3.2" fill="#ffc9cf"/>
<rect x="418.5" y="730.6" width="5" height="3.2" fill="#ff3b3b"/>
<rect x="425.1" y="730.6" width="5" height="4.5" fill="#ff3b3b"/>
<rect x="431.7" y="730.6" width="5" height="1.9" fill="#ffc9cf"/>
<rect x="438.2" y="730.6" width="5" height="1.4" fill="#ffc9cf"/>
<rect x="444.8" y="730.6" width="5" height="1.2" fill="#ffc9cf"/>
<rect x="451.4" y="730.6" width="5" height="1.0" fill="#ffc9cf"/>
<rect x="457.9" y="728.0" width="5" height="2.6" fill="#1b9a7c"/>
<rect x="464.5" y="725.5" width="5" height="5.1" fill="#1b9a7c"/>
<rect x="471.1" y="722.9" width="5" height="7.7" fill="#1b9a7c"/>
<rect x="477.6" y="721.5" width="5" height="9.1" fill="#1b9a7c"/>
<rect x="484.2" y="722.9" width="5" height="7.7" fill="#a9dfd5"/>
<rect x="490.8" y="722.9" width="5" height="7.7" fill="#a9dfd5"/>
<rect x="497.3" y="725.5" width="5" height="5.1" fill="#a9dfd5"/>
<rect x="503.9" y="727.3" width="5" height="3.3" fill="#a9dfd5"/>
<rect x="510.4" y="729.4" width="5" height="1.2" fill="#a9dfd5"/>
<rect x="517.0" y="730.6" width="5" height="1.4" fill="#ffc9cf"/>
<rect x="523.6" y="729.2" width="5" height="1.4" fill="#1b9a7c"/>
<rect x="530.1" y="728.8" width="5" height="1.8" fill="#1b9a7c"/>
<rect x="536.7" y="730.6" width="5" height="2.2" fill="#ff3b3b"/>
<rect x="543.3" y="730.6" width="5" height="2.2" fill="#ff3b3b"/>
<rect x="549.8" y="730.6" width="5" height="2.0" fill="#ffc9cf"/>
<rect x="556.4" y="730.6" width="5" height="2.0" fill="#ffc9cf"/>
<rect x="563.0" y="730.6" width="5" height="1.2" fill="#ffc9cf"/>
<rect x="569.5" y="728.0" width="5" height="2.6" fill="#1b9a7c"/>
<rect x="576.1" y="728.0" width="5" height="2.6" fill="#1b9a7c"/>
<rect x="582.6" y="728.0" width="5" height="2.6" fill="#1b9a7c"/>
<rect x="589.2" y="725.5" width="5" height="5.1" fill="#1b9a7c"/>
<rect x="595.8" y="722.9" width="5" height="7.7" fill="#1b9a7c"/>
<rect x="602.3" y="720.2" width="5" height="10.4" fill="#1b9a7c"/>
<rect x="608.9" y="716.3" width="5" height="14.3" fill="#1b9a7c"/>
<rect x="615.5" y="712.9" width="5" height="17.7" fill="#1b9a7c"/>
<rect x="622.0" y="712.9" width="5" height="17.7" fill="#a9dfd5"/>
<rect x="628.6" y="715.0" width="5" height="15.6" fill="#a9dfd5"/>
<rect x="635.2" y="717.6" width="5" height="13.0" fill="#a9dfd5"/>
<rect x="641.7" y="720.2" width="5" height="10.4" fill="#a9dfd5"/>
<rect x="648.3" y="722.0" width="5" height="8.6" fill="#a9dfd5"/>
<rect x="654.9" y="724.2" width="5" height="6.4" fill="#a9dfd5"/>
<rect x="661.4" y="725.5" width="5" height="5.1" fill="#a9dfd5"/>
<rect x="668.0" y="729.4" width="5" height="1.2" fill="#a9dfd5"/>
<rect x="674.5" y="730.6" width="5" height="4.1" fill="#ff3b3b"/>
<rect x="681.1" y="730.6" width="5" height="6.7" fill="#ff3b3b"/>
<rect x="687.7" y="730.6" width="5" height="6.7" fill="#ffc9cf"/>
<rect x="694.2" y="730.6" width="5" height="4.9" fill="#ffc9cf"/>
<rect x="700.8" y="730.6" width="5" height="4.9" fill="#ffc9cf"/>
<rect x="707.4" y="730.6" width="5" height="4.9" fill="#ff3b3b"/>
<rect x="713.9" y="730.6" width="5" height="1.2" fill="#ffc9cf"/>
<rect x="720.5" y="724.2" width="5" height="6.4" fill="#1b9a7c"/>
<rect x="727.1" y="724.2" width="5" height="6.4" fill="#1b9a7c"/>
<rect x="733.6" y="720.8" width="5" height="9.8" fill="#1b9a7c"/>
<rect x="740.2" y="717.6" width="5" height="13.0" fill="#1b9a7c"/>
<rect x="746.7" y="716.3" width="5" height="14.3" fill="#1b9a7c"/>
<rect x="753.3" y="712.9" width="5" height="17.7" fill="#1b9a7c"/>
<rect x="759.9" y="714.2" width="5" height="16.4" fill="#a9dfd5"/>
<rect x="766.4" y="714.2" width="5" height="16.4" fill="#1b9a7c"/>
<rect x="773.0" y="711.8" width="5" height="18.8" fill="#1b9a7c"/>
<rect x="779.6" y="710.5" width="5" height="20.1" fill="#1b9a7c"/>
<rect x="786.1" y="709.7" width="5" height="20.9" fill="#1b9a7c"/>
<rect x="792.7" y="711.8" width="5" height="18.8" fill="#a9dfd5"/>
<rect x="799.3" y="718.9" width="5" height="11.7" fill="#a9dfd5"/>
<rect x="805.8" y="726.0" width="5" height="4.6" fill="#a9dfd5"/>
<rect x="812.4" y="727.3" width="5" height="3.3" fill="#a9dfd5"/>
<rect x="819.0" y="724.2" width="5" height="6.4" fill="#1b9a7c"/>
<rect x="825.5" y="726.0" width="5" height="4.6" fill="#a9dfd5"/>
<rect x="832.1" y="729.5" width="5" height="1.1" fill="#a9dfd5"/>
<rect x="838.6" y="730.6" width="5" height="4.6" fill="#ff3b3b"/>
<path d="M45.0,755.0 C52.5,753.6 80.4,748.4 90.0,746.9 C99.6,745.4 97.3,746.0 102.5,746.3 C107.7,746.6 116.4,748.2 121.0,748.8 C125.6,749.4 124.8,750.1 130.0,749.8 C135.2,749.5 141.5,748.1 152.5,746.9 C163.5,745.7 181.4,744.2 196.0,742.5 C210.6,740.8 226.5,738.9 240.0,736.8 C253.5,734.7 267.9,732.3 277.1,729.9 C286.3,727.5 289.3,725.2 295.0,722.3 C300.7,719.4 306.9,715.0 311.5,712.7 C316.1,710.4 318.4,709.6 322.5,708.6 C326.6,707.6 328.3,706.5 336.3,706.5 C344.3,706.5 361.5,707.6 370.7,708.6 C379.9,709.6 382.1,711.2 391.3,712.7 C400.5,714.2 415.4,716.5 425.7,717.5 C436.0,718.5 446.4,719.1 453.2,718.9 C459.9,718.7 458.8,717.9 466.2,716.3 C473.6,714.6 486.8,710.3 497.7,709.0 C508.6,707.7 520.9,708.2 531.9,708.4 C542.9,708.6 553.8,710.4 563.4,710.3 C573.0,710.2 582.6,709.0 589.6,707.6 C596.6,706.2 598.8,705.0 605.4,701.9 C612.0,698.8 619.4,692.9 629.0,688.7 C638.6,684.6 656.1,679.0 663.1,677.0 C670.1,675.0 663.1,675.7 671.0,677.0 C678.9,678.3 700.2,684.1 710.3,684.8 C720.3,685.4 724.7,682.9 731.3,680.9 C737.9,678.9 742.7,677.0 749.7,673.0 C756.7,669.0 765.9,662.2 773.3,657.2 C780.7,652.2 788.6,645.9 794.3,642.8 C800.0,639.6 801.8,639.6 807.5,638.3 C813.2,637.0 823.0,635.3 828.5,634.9 C834.0,634.5 838.3,635.6 840.3,635.7" fill="none" stroke="#ff8c3a" stroke-width="1.4" stroke-linejoin="round"/>
<path d="M45.0,750.6 C50.4,749.5 70.0,744.7 77.5,743.8 C85.0,742.8 85.4,744.5 90.0,745.0 C94.6,745.5 99.4,745.5 105.0,746.9 C110.6,748.2 119.6,752.5 123.8,753.1 C127.9,753.7 125.6,752.2 130.0,750.6 C134.4,749.0 139.0,745.4 150.0,743.8 C161.0,742.1 185.2,742.2 196.0,740.6 C206.8,739.0 207.7,735.5 215.0,734.4 C222.3,733.3 233.5,734.3 240.0,734.0 C246.5,733.7 248.1,734.1 253.8,732.6 C259.5,731.1 269.4,727.2 274.4,725.0 C279.4,722.8 279.9,723.6 284.0,719.6 C288.1,715.6 295.0,704.9 299.1,701.0 C303.2,697.1 304.9,696.0 308.8,696.2 C312.7,696.4 317.9,700.6 322.5,702.4 C327.1,704.2 330.1,706.0 336.3,707.2 C342.6,708.4 351.3,707.8 360.0,709.5 C368.7,711.2 381.0,716.3 388.5,717.5 C396.0,718.7 400.4,716.7 405.0,716.8 C409.6,716.9 412.6,717.5 416.0,718.2 C419.4,718.9 419.5,720.9 425.7,721.0 C431.9,721.1 447.5,719.8 453.2,718.9 C458.9,718.0 456.9,717.0 460.0,715.4 C463.1,713.8 466.1,711.2 471.5,709.2 C476.9,707.2 485.1,703.6 492.5,703.2 C499.9,702.9 509.5,706.4 516.1,707.1 C522.7,707.8 527.1,707.0 531.9,707.6 C536.7,708.2 540.2,710.4 545.0,711.0 C549.8,711.6 555.9,711.5 560.7,711.0 C565.5,710.5 569.1,709.1 573.9,707.9 C578.7,706.7 584.8,706.3 589.6,704.0 C594.4,701.7 597.9,698.5 602.7,694.0 C607.5,689.5 614.1,680.6 618.5,677.0 C622.9,673.4 623.8,673.1 629.0,672.2 C634.2,671.3 644.3,671.6 650.0,671.7 C655.7,671.8 658.7,671.7 663.1,673.0 C667.5,674.3 672.3,677.2 676.2,679.6 C680.1,682.0 682.3,686.0 686.7,687.4 C691.1,688.8 698.6,687.8 702.5,688.2 C706.4,688.6 706.8,691.7 710.3,690.0 C713.8,688.3 719.5,681.0 723.5,678.2 C727.5,675.4 731.0,675.2 734.0,673.0 C737.0,670.8 738.3,668.6 741.8,665.1 C745.3,661.6 751.5,654.6 755.0,652.0 C758.5,649.4 759.3,651.6 762.8,649.4 C766.3,647.2 771.6,642.8 776.0,638.9 C780.4,635.0 786.0,628.6 789.0,626.3 C792.0,624.0 791.2,623.8 794.3,625.0 C797.4,626.2 804.4,632.1 807.5,633.6 C810.6,635.1 810.5,634.8 812.7,634.1 C814.9,633.5 818.0,630.3 820.6,629.7 C823.2,629.1 825.2,628.8 828.5,630.5 C831.8,632.2 838.3,638.6 840.3,640.2" fill="none" stroke="#42a0f0" stroke-width="1.4" stroke-linejoin="round"/>
</g>
<text x="1480.0" y="50.7" fill="#444" font-size="13" text-anchor="start" font-weight="normal">128000000</text>
<text x="1480.0" y="93.3" fill="#444" font-size="13" text-anchor="start" font-weight="normal">120000000</text>
<text x="1480.0" y="187.5" fill="#444" font-size="13" text-anchor="start" font-weight="normal">104000000</text>
<text x="1480.0" y="241.7" fill="#444" font-size="13" text-anchor="start" font-weight="normal">96000000</text>
<text x="1480.0" y="277.2" fill="#444" font-size="13" text-anchor="start" font-weight="normal">91000000</text>
<text x="1480.0" y="322.7" fill="#444" font-size="13" text-anchor="start" font-weight="normal">85000000</text>
<text x="1480.0" y="354.7" fill="#444" font-size="13" text-anchor="start" font-weight="normal">81000000</text>
<text x="1480.0" y="388.7" fill="#444" font-size="13" text-anchor="start" font-weight="normal">77000000</text>
<text x="1480.0" y="423.5" fill="#444" font-size="13" text-anchor="start" font-weight="normal">73000000</text>
<text x="1480.0" y="460.7" fill="#444" font-size="13" text-anchor="start" font-weight="normal">69000000</text>
<text x="1480.0" y="500.2" fill="#444" font-size="13" text-anchor="start" font-weight="normal">65000000</text>
<text x="1480.0" y="532.5" fill="#444" font-size="13" text-anchor="start" font-weight="normal">62000000</text>
<text x="1480.0" y="562.7" fill="#444" font-size="13" text-anchor="start" font-weight="normal">59200000</text>
<text x="1480.0" y="593.7" fill="#444" font-size="13" text-anchor="start" font-weight="normal">56450000</text>
<text x="1480.0" y="672.4" fill="#444" font-size="13" text-anchor="start" font-weight="normal">4000000</text>
<text x="1480.0" y="703.7" fill="#444" font-size="13" text-anchor="start" font-weight="normal">2000000</text>
<text x="1480.0" y="765.7" fill="#444" font-size="13" text-anchor="start" font-weight="normal">−2000000</text>
<text x="1296.0" y="112.2" fill="#3c3c3c" font-size="13" text-anchor="start" font-weight="normal">0.00%(114736147)</text>
<text x="1296.0" y="210.5" fill="#3c3c3c" font-size="13" text-anchor="start" font-weight="normal">23.60%(99027646)</text>
<text x="1296.0" y="269.7" fill="#3c3c3c" font-size="13" text-anchor="start" font-weight="normal">38.20%(90406155)</text>
<text x="1296.0" y="319.7" fill="#3c3c3c" font-size="13" text-anchor="start" font-weight="normal">50.00%(83989712)</text>
<text x="1296.0" y="368.4" fill="#3c3c3c" font-size="13" text-anchor="start" font-weight="normal">61.80%(78028667)</text>
<text x="1296.0" y="437.7" fill="#3c3c3c" font-size="13" text-anchor="start" font-weight="normal">78.60%(70264324)</text>
<text x="1297.0" y="527.2" fill="#3c3c3c" font-size="13" text-anchor="start" font-weight="normal">100.00%(61482558)</text>
<text x="1066.0" y="57.9" fill="#b86cc8" font-size="13" text-anchor="start" font-weight="normal">200.00%(124433138)</text>
<text x="1066.0" y="108.7" fill="#b86cc8" font-size="13" text-anchor="start" font-weight="normal">161.80%(115463902)</text>
<text x="1066.0" y="152.7" fill="#b86cc8" font-size="13" text-anchor="start" font-weight="normal">127.20%(107899211)</text>
<text x="1066.0" y="187.9" fill="#b86cc8" font-size="13" text-anchor="start" font-weight="normal">100.00%(102302007)</text>
<text x="210.6" y="59.2" fill="#c44a56" font-size="13" text-anchor="start" font-weight="normal">109227000</text>
<text x="325.0" y="59.2" fill="#c44a56" font-size="13" text-anchor="start" font-weight="normal">109200000</text>
<text x="432.5" y="59.2" fill="#c44a56" font-size="13" text-anchor="start" font-weight="normal">106937000</text>
<text x="534.4" y="59.2" fill="#c44a56" font-size="13" text-anchor="start" font-weight="normal">108946000</text><rect x="1471.0" y="128.0" width="80.0" height="16.5" rx="2" fill="#7a0000"/><text x="1480.0" y="140.9" fill="#ffffff" font-size="13" text-anchor="start" font-weight="normal">110840411</text><rect x="1471.0" y="145.5" width="80.0" height="16.5" rx="2" fill="#ec407a"/><text x="1480.0" y="158.4" fill="#ffffff" font-size="13" text-anchor="start" font-weight="normal">108946000</text><rect x="1471.0" y="164.0" width="80.0" height="16.5" rx="2" fill="#00870f"/><text x="1480.0" y="176.9" fill="#ffffff" font-size="13" text-anchor="start" font-weight="normal">105901419</text><rect x="1471.0" y="275.0" width="73.0" height="16.5" rx="2" fill="#000000"/><text x="1480.0" y="287.9" fill="#ffffff" font-size="13" text-anchor="start" font-weight="normal">89586716</text><rect x="1471.0" y="615.0" width="65.0" height="17.0" rx="2" fill="#ff6d00"/><text x="1480.0" y="628.2" fill="#ffffff" font-size="13" text-anchor="start" font-weight="normal">5990399</text><rect x="1471.0" y="632.0" width="65.0" height="17.0" rx="2" fill="#2196f3"/><text x="1480.0" y="645.2" fill="#ffffff" font-size="13" text-anchor="start" font-weight="normal">5741317</text><rect x="1471.0" y="726.0" width="65.0" height="17.0" rx="2" fill="#ff5252"/><text x="1480.0" y="739.2" fill="#ffffff" font-size="13" text-anchor="start" font-weight="normal">−249081</text><rect x="1396.3" y="145.5" width="73.5" height="16.5" rx="2" fill="#ec407a"/><text x="1300" y="787.7" fill="#333" font-size="13" text-anchor="middle" font-weight="bold">1404</text>
</svg>
<div class="fa" dir="rtl" style="left:80.0px;top:775.2px;color:#333;transform:scaleX(0.889)">27 اردیبهشت</div>
<div class="fa" dir="rtl" style="left:182.5px;top:775.2px;color:#333;transform:scaleX(0.919)">خرداد</div>
<div class="fa" dir="rtl" style="left:288.5px;top:775.2px;color:#333;transform:scaleX(0.933)">تیر</div>
<div class="fa" dir="rtl" style="left:447.5px;top:775.2px;color:#333;transform:scaleX(0.833)">مرداد</div>
<div class="fa" dir="rtl" style="left:606.5px;top:775.2px;color:#333;transform:scaleX(0.817)">شهریور</div>
<div class="fa" dir="rtl" style="left:771.0px;top:775.2px;color:#333;transform:scaleX(0.950)">مهر</div>
<div class="fa" dir="rtl" style="left:850.0px;top:775.2px;color:#333;transform:scaleX(0.892)">24 مهر</div>
<div class="fa" dir="rtl" style="left:942.5px;top:775.2px;color:#333;transform:scaleX(0.909)">آبان</div>
<div class="fa" dir="rtl" style="left:1018.5px;top:775.2px;color:#333;transform:scaleX(0.948)">25 آبان</div>
<div class="fa" dir="rtl" style="left:1115.0px;top:775.2px;color:#333;transform:scaleX(0.938)">آذر</div>
<div class="fa" dir="rtl" style="left:1191.5px;top:775.2px;color:#333;transform:scaleX(0.953)">25 آذر</div>
<div class="fa" dir="rtl" style="left:1368.5px;top:775.2px;color:#333;transform:scaleX(0.997)">27 دی</div>
<div class="fa" dir="rtl" style="left:1460.0px;top:775.2px;color:#333;transform:scaleX(1.000)">ن</div>
<div class="fa" dir="rtl" style="left:53.0px;top:46.7px;color:#333;transform:scaleX(0.870)">طلای 18 عیار، کامودیتی و ارز</div>
<div class="fa" dir="rtl" style="left:197.5px;top:46.7px;color:#333;transform:scaleX(0.800)">باز</div>
<div class="fa" dir="rtl" style="left:281.9px;top:46.7px;color:#333;transform:scaleX(0.930)">بیشترین</div>
<div class="fa" dir="rtl" style="left:396.0px;top:46.7px;color:#333;transform:scaleX(0.872)">کمترین</div>
<div class="fa" dir="rtl" style="left:503.0px;top:46.7px;color:#333;transform:scaleX(0.909)">آخرین</div>
<div class="fa" dir="rtl" style="left:1399.0px;top:146.0px;color:#fff;transform:scaleX(0.907)">طلای 18 عیار</div>

<div class="leg" style="top:62.5px">SuperTrend&nbsp;&nbsp;<span style="color:#9a2a30">110840411</span>&nbsp;&nbsp;Ø&nbsp;&nbsp;<span style="color:#f23c3c">1</span></div>
<div class="leg" style="top:79.5px">SuperTrend&nbsp;&nbsp;<span style="color:#2f9e35">105901419</span>&nbsp;&nbsp;Ø&nbsp;&nbsp;Ø</div>
<div class="leg" style="top:614.5px">MACD&nbsp;&nbsp;<span style="color:#f5525a">−249081</span>&nbsp;&nbsp;<span style="color:#42a0f0">5741317</span>&nbsp;&nbsp;<span style="color:#ff8c3a">5990399</span></div>
</body></html>
